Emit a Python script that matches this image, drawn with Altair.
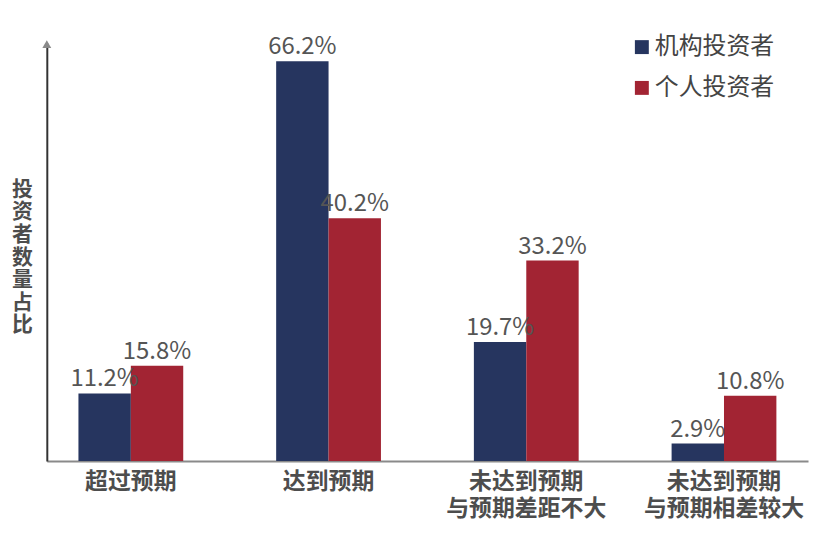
import altair as alt
import pandas as pd

categories = ["超过预期", "达到预期", "未达到预期\n与预期差距不大", "未达到预期\n与预期相差较大"]
series = ["机构投资者", "个人投资者"]
inst_values = [11.2, 66.2, 19.7, 2.9]
indiv_values = [15.8, 40.2, 33.2, 10.8]
colors = ["#26355f", "#a22433"]

rows = []
for c, a, b in zip(categories, inst_values, indiv_values):
    rows.append({"cat": c, "series": series[0], "value": a})
    rows.append({"cat": c, "series": series[1], "value": b})
df = pd.DataFrame(rows)
df["label"] = df["value"].map(lambda v: f"{v:.1f}%")

FONT = "Noto Sans CJK SC"

x_enc = alt.X("cat:N", sort=categories,
              scale=alt.Scale(paddingInner=0.47, paddingOuter=0.16),
              axis=alt.Axis(title=None, labelAngle=0, ticks=False, domainColor="#8a8a8a",
                            domainWidth=2, labelFontSize=23, labelFontWeight="bold",
                            labelColor="#4d4d4d", labelPadding=10, labelLineHeight=27,
                            labelFont=FONT, labelExpr="split(datum.label, '\\n')"))
xo_enc = alt.XOffset("series:N", sort=series, scale=alt.Scale(paddingInner=0, paddingOuter=0))
y_enc = alt.Y("value:Q", scale=alt.Scale(domain=[0, 69.2], nice=False, zero=True),
              axis=alt.Axis(title=["投", "资", "者", "数", "量", "占", "比"], titleAngle=0,
                            titleX=-25, titleY=147, titleAlign="center", titleBaseline="middle",
                            titleLineHeight=22.7, titleFontSize=21, titleFontWeight="bold",
                            titleColor="#4d4d4d", titleFont=FONT,
                            labels=False, ticks=False, grid=False, domainColor="#333333",
                            domainWidth=2))

bars = alt.Chart(df).mark_bar().encode(
    x=x_enc, xOffset=xo_enc, y=y_enc,
    color=alt.Color("series:N", sort=series, scale=alt.Scale(domain=series, range=colors),
                    legend=alt.Legend(title=None, orient="none", legendX=586, legendY=-8,
                                      symbolType="square", symbolSize=196, symbolStrokeWidth=0,
                                      labelFontSize=24, labelColor="#444444", labelFont=FONT,
                                      rowPadding=17, labelOffset=1))
)

texts = alt.Chart(df).mark_text(baseline="alphabetic", dy=-7, fontSize=24, color="#555555",
                                font=FONT).encode(
    x=alt.X("cat:N", sort=categories), xOffset=alt.XOffset("series:N", sort=series),
    y="value:Q", text="label:N"
)

arrow = alt.Chart(pd.DataFrame({"a": [0]})).mark_point(
    shape="triangle-up", filled=True, color="#8a8a8a", size=80, opacity=1
).encode(x=alt.value(0), y=alt.value(1))

chart = alt.layer(bars, texts, arrow).properties(
    width=765, height=420,
    autosize=alt.AutoSizeParams(type="none"),
    padding={"left": 39, "top": 34, "right": 5, "bottom": 70},
).configure(font=FONT).configure_view(stroke=None, strokeWidth=0)

chart.save("out.html", embed_options={"renderer": "svg", "actions": False})
